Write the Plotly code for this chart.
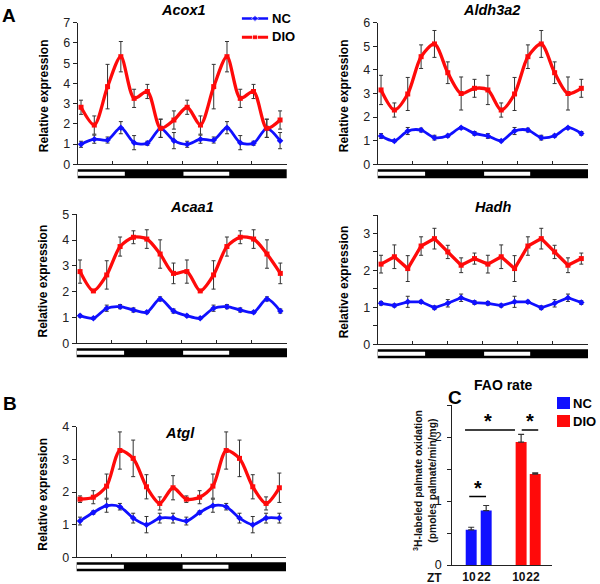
import plotly.graph_objects as go

# ---------------- DATA ----------------
TIMEPOINTS = list(range(1, 17))  # double-plotted time points

ACOX1_NC = [0.99, 1.24, 1.20, 1.81, 1.07, 1.04, 1.78, 1.17, 0.99, 1.24, 1.20, 1.81, 1.07, 1.04, 1.78, 1.17]
ACOX1_NC_ERR = [0.15, 0.2, 0.15, 0.3, 0.35, 0.1, 0.45, 0.4, 0.15, 0.2, 0.15, 0.3, 0.35, 0.1, 0.45, 0.4]
ACOX1_DIO = [2.82, 1.94, 3.84, 5.32, 3.26, 3.60, 1.78, 2.19, 2.82, 1.94, 3.84, 5.32, 3.26, 3.60, 1.78, 2.19]
ACOX1_DIO_ERR = [0.35, 0.45, 1.1, 0.75, 0.45, 0.35, 0.45, 0.45, 0.35, 0.45, 1.1, 0.75, 0.45, 0.35, 0.45, 0.45]

ALDH3A2_NC = [1.20, 0.99, 1.41, 1.45, 1.13, 1.21, 1.55, 1.31, 1.20, 0.99, 1.41, 1.45, 1.13, 1.21, 1.55, 1.31]
ALDH3A2_NC_ERR = [0.1, 0.04, 0.15, 0.08, 0.1, 0.06, 0.05, 0.08, 0.1, 0.04, 0.15, 0.08, 0.1, 0.06, 0.05, 0.08]
ALDH3A2_DIO = [3.15, 2.30, 2.98, 4.56, 5.10, 3.88, 3.00, 3.22, 3.15, 2.30, 2.98, 4.56, 5.10, 3.88, 3.00, 3.22]
ALDH3A2_DIO_ERR = [0.62, 0.3, 0.7, 0.5, 0.57, 0.46, 0.7, 0.38, 0.62, 0.3, 0.7, 0.5, 0.57, 0.46, 0.7, 0.38]

ACAA1_NC = [1.07, 0.97, 1.36, 1.42, 1.29, 1.20, 1.72, 1.25, 1.07, 0.97, 1.36, 1.42, 1.29, 1.20, 1.72, 1.25]
ACAA1_NC_ERR = [0.05, 0.04, 0.12, 0.08, 0.08, 0.05, 0.08, 0.08, 0.05, 0.04, 0.12, 0.08, 0.08, 0.05, 0.08, 0.08]
ACAA1_DIO = [2.78, 2.03, 2.65, 3.75, 4.11, 4.04, 3.46, 2.71, 2.78, 2.03, 2.65, 3.75, 4.11, 4.04, 3.46, 2.71]
ACAA1_DIO_ERR = [0.45, 0.05, 0.55, 0.37, 0.25, 0.36, 0.55, 0.4, 0.45, 0.05, 0.55, 0.37, 0.25, 0.36, 0.55, 0.4]

HADH_NC = [1.11, 1.05, 1.15, 1.15, 0.99, 1.11, 1.26, 1.13, 1.11, 1.05, 1.15, 1.15, 0.99, 1.11, 1.26, 1.13]
HADH_NC_ERR = [0.05, 0.04, 0.15, 0.04, 0.05, 0.1, 0.1, 0.05, 0.05, 0.04, 0.15, 0.04, 0.05, 0.1, 0.1, 0.05]
HADH_DIO = [2.17, 2.37, 2.05, 2.66, 2.86, 2.50, 2.14, 2.32, 2.17, 2.37, 2.05, 2.66, 2.86, 2.50, 2.14, 2.32]
HADH_DIO_ERR = [0.24, 0.32, 0.35, 0.25, 0.28, 0.18, 0.2, 0.15, 0.24, 0.32, 0.35, 0.25, 0.28, 0.18, 0.2, 0.15]

ATGL_NC = [1.11, 1.37, 1.58, 1.55, 1.20, 1.00, 1.20, 1.20, 1.11, 1.37, 1.58, 1.55, 1.20, 1.00, 1.20, 1.20]
ATGL_NC_ERR = [0.12, 0.05, 0.2, 0.1, 0.15, 0.25, 0.15, 0.15, 0.12, 0.05, 0.2, 0.1, 0.15, 0.25, 0.15, 0.15]
ATGL_DIO = [1.78, 1.84, 2.18, 3.27, 3.03, 2.16, 1.65, 2.13, 1.78, 1.84, 2.18, 3.27, 3.03, 2.16, 1.65, 2.13]
ATGL_DIO_ERR = [0.1, 0.2, 0.37, 0.57, 0.56, 0.37, 0.2, 0.37, 0.1, 0.2, 0.37, 0.57, 0.56, 0.37, 0.2, 0.45]

FAO_ZT = ["10", "22"]
FAO_NC = [0.55, 0.85]
FAO_NC_ERR = [0.04, 0.08]
FAO_DIO = [1.92, 1.42]
FAO_DIO_ERR = [0.12, 0.02]

# ---------------- LAYOUT HELPERS ----------------
W, H = 600, 584
BLUE = "#1010ff"
RED = "#ff0a0a"
FONT = "Liberation Sans, Arial, sans-serif"


def px(x):
    return x / W


def py(y):
    return 1 - y / H


fig = go.Figure()
layout = dict(
    width=W, height=H, margin=dict(l=0, r=0, t=0, b=0, autoexpand=False),
    plot_bgcolor="white", paper_bgcolor="white", showlegend=False,
    font=dict(family=FONT, size=12, color="black"),
)
shapes = []
annotations = []

XR = [0.75, 16.5]

panels = [
    ("Acox1", ACOX1_NC, ACOX1_NC_ERR, ACOX1_DIO, ACOX1_DIO_ERR, 77.7, 286.7, 22.7, 164.3, 7, (183, 10)),
    ("Aldh3a2", ALDH3A2_NC, ALDH3A2_NC_ERR, ALDH3A2_DIO, ALDH3A2_DIO_ERR, 377.7, 588, 22.7, 164.3, 6, (492, 10)),
    ("Acaa1", ACAA1_NC, ACAA1_NC_ERR, ACAA1_DIO, ACAA1_DIO_ERR, 76.7, 287, 214.3, 343.3, 5, (192, 207)),
    ("Hadh", HADH_NC, HADH_NC_ERR, HADH_DIO, HADH_DIO_ERR, 377.7, 588, 215, 344.3, 3.5, (493, 207)),
    ("Atgl", ATGL_NC, ATGL_NC_ERR, ATGL_DIO, ATGL_DIO_ERR, 76.7, 286, 426.7, 557.3, 4, (180, 433)),
]

for i, (name, nc, nce, dio, dioe, x0, x1, ytop, ybot, ymax, tpos) in enumerate(panels, start=1):
    xa = "x" if i == 1 else f"x{i}"
    ya = "y" if i == 1 else f"y{i}"
    shape_mode = "linear" if name == "Hadh" else "spline"
    for vals, errs, color, sym, lw in ((nc, nce, BLUE, "diamond", 2.8), (dio, dioe, RED, "square", 3.3)):
        fig.add_trace(go.Scatter(
            x=TIMEPOINTS, y=vals, xaxis=xa, yaxis=ya, mode="lines+markers",
            line=dict(color=color, width=lw, shape=shape_mode, smoothing=0.8),
            marker=dict(symbol=sym, size=5, color=color),
            error_y=dict(type="data", array=errs, visible=True, color="#333333", thickness=1, width=2),
            cliponaxis=False,
        ))
    if name == "Hadh":
        tv = [k * 0.5 for k in range(8)]
        tt = [str(int(v)) if v == int(v) else "" for v in tv]
    else:
        tv = list(range(int(ymax) + 1))
        tt = [str(v) for v in tv]
    key_x = "xaxis" if i == 1 else f"xaxis{i}"
    key_y = "yaxis" if i == 1 else f"yaxis{i}"
    step = (XR[1] - XR[0]) / 6
    layout[key_x] = dict(
        domain=[px(x0), px(x1)], range=XR, anchor=ya, automargin=False,
        showgrid=False, zeroline=False, showline=True, linecolor="#222", linewidth=1,
        tickvals=[XR[0] + k * step for k in range(7)], ticktext=[""] * 7,
        ticks="inside", ticklen=3, tickcolor="#222", fixedrange=True,
    )
    layout[key_y] = dict(
        domain=[py(ybot), py(ytop)], range=[0, ymax], anchor=xa, automargin=False,
        showgrid=False, zeroline=False, showline=True, linecolor="#222", linewidth=1,
        tickvals=tv, ticktext=tt, ticks="outside", ticklen=4, tickcolor="#222",
        tickfont=dict(size=12.5, color="#222"), fixedrange=True,
    )
    # light/dark bar
    shapes.append(dict(type="rect", xref=xa, yref="paper", x0=0.6, x1=16.58,
                       y0=py(ybot + 14), y1=py(ybot + 5), fillcolor="black", line=dict(width=0)))
    for a, b in ((0.77, 4.3), (8.72, 12.17)):
        shapes.append(dict(type="rect", xref=xa, yref="paper", x0=a, x1=b,
                           y0=py(ybot + 11.5), y1=py(ybot + 7.5), fillcolor="white", line=dict(width=0)))
    annotations.append(dict(text=f"<b><i>{name}</i></b>", x=px(tpos[0]), y=py(tpos[1]), xref="paper", yref="paper",
                            showarrow=False, font=dict(size=14.5, color="black"), xanchor="center", yanchor="middle"))
    annotations.append(dict(text="<b>Relative expression</b>", x=px(x0 - 34), y=py((ytop + ybot) / 2 + 2),
                            xref="paper", yref="paper", showarrow=False, textangle=-90,
                            font=dict(size=12, color="black"), xanchor="center", yanchor="middle"))

# ---------------- legend for A (small helper axis) ----------------
fig.add_trace(go.Scatter(x=[0, 1, 2], y=[1, 1, 1], xaxis="x7", yaxis="y7", mode="lines+markers",
                         line=dict(color=BLUE, width=2.5), marker=dict(symbol="diamond", size=[0, 5, 0], color=BLUE)))
fig.add_trace(go.Scatter(x=[0, 1, 2], y=[0, 0, 0], xaxis="x7", yaxis="y7", mode="lines+markers",
                         line=dict(color=RED, width=3), marker=dict(symbol="square", size=[0, 5, 0], color=RED)))
layout["xaxis7"] = dict(domain=[px(241.7), px(268.3)], range=[0, 2], visible=False, anchor="y7", fixedrange=True)
layout["yaxis7"] = dict(domain=[py(46.7), py(9)], range=[-0.5, 1.5], visible=False, anchor="x7", fixedrange=True)
annotations.append(dict(text="<b>NC</b>", x=px(270), y=py(19), xref="paper", yref="paper", showarrow=False,
                        xanchor="left", yanchor="middle", font=dict(size=13)))
annotations.append(dict(text="<b>DIO</b>", x=px(270), y=py(37), xref="paper", yref="paper", showarrow=False,
                        xanchor="left", yanchor="middle", font=dict(size=13)))

# ---------------- panel C: FAO rate ----------------
FAO_X_NC = [1.26, 2.26]
FAO_X_DIO = [4.59, 5.53]
fig.add_trace(go.Bar(x=FAO_X_NC, y=FAO_NC, xaxis="x6", yaxis="y6", width=0.73, marker=dict(color=BLUE, line=dict(width=0)),
                     error_y=dict(type="data", array=FAO_NC_ERR, symmetric=False, arrayminus=[0, 0],
                                  color="#333", thickness=1.2, width=3)))
fig.add_trace(go.Bar(x=FAO_X_DIO, y=FAO_DIO, xaxis="x6", yaxis="y6", width=0.73, marker=dict(color=RED, line=dict(width=0)),
                     error_y=dict(type="data", array=FAO_DIO_ERR, symmetric=False, arrayminus=[0, 0],
                                  color="#333", thickness=1.2, width=3)))
layout["barmode"] = "overlay"
layout["xaxis6"] = dict(domain=[px(452.3), px(551.7)], range=[0, 6.63], anchor="y6", automargin=False,
                        showgrid=False, zeroline=False, showline=True, linecolor="#222", linewidth=1,
                        tickvals=[x - 0.15 for x in FAO_X_NC + FAO_X_DIO],
                        ticktext=[f"<b>{t}</b>" for t in FAO_ZT + FAO_ZT],
                        ticks="", tickangle=0, tickfont=dict(size=12, color="#111"),
                        ticklabelstandoff=1, fixedrange=True)
layout["yaxis6"] = dict(domain=[py(565), py(405)], range=[0, 2.5], anchor="x6", automargin=False,
                        showgrid=False, zeroline=False, showline=True, linecolor="#222", linewidth=1,
                        tickvals=[0, 0.5, 1, 1.5, 2, 2.5], ticktext=["0", "", "1", "", "2", ""],
                        ticks="outside", ticklen=4, tickcolor="#222", tickfont=dict(size=12.5, color="#111"),
                        showticklabels=True, ticklabelstandoff=3, fixedrange=True)
annotations.append(dict(text="<b>ZT</b>", x=px(434), y=py(577.5), xref="paper", yref="paper", showarrow=False,
                        xanchor="center", yanchor="middle", font=dict(size=12, color="#111")))
annotations.append(dict(text="<b>FAO rate</b>", x=px(503), y=py(385), xref="paper", yref="paper", showarrow=False,
                        xanchor="center", yanchor="middle", font=dict(size=14)))
annotations.append(dict(text="<b><sup>3</sup>H-labeled palmate oxidation<br>(pmoles palmate/min/mg)</b>",
                        x=px(424), y=py(481), xref="paper", yref="paper", showarrow=False, textangle=-90,
                        xanchor="center", yanchor="middle", font=dict(size=10.3, color="#111")))
for xa0, xa1, yv in ((0.85, 4.18, 2.11), (4.63, 5.73, 2.11), (1.13, 2.25, 1.07)):
    shapes.append(dict(type="line", xref="x6", yref="y6", x0=xa0, x1=xa1, y0=yv, y1=yv,
                       line=dict(color="black", width=1.5)))
for xs, ys in ((2.38, 2.11), (5.18, 2.11), (1.71, 1.07)):
    annotations.append(dict(text="<b>*</b>", x=xs, y=ys, xref="x6", yref="y6", showarrow=False,
                            xanchor="center", yanchor="bottom", yshift=-4, font=dict(size=20)))
for (lbl, col, yt) in (("NC", BLUE, 397), ("DIO", RED, 415)):
    shapes.append(dict(type="rect", xref="paper", yref="paper", x0=px(557), x1=px(570), y0=py(yt + 12), y1=py(yt),
                       fillcolor=col, line=dict(width=0)))
    annotations.append(dict(text=f"<b>{lbl}</b>", x=px(570.5), y=py(yt + 6), xref="paper", yref="paper",
                            showarrow=False, xanchor="left", yanchor="middle", font=dict(size=13)))

for lbl, lx, ly in (("A", 9, 15), ("B", 10, 403), ("C", 455, 398)):
    annotations.append(dict(text=f"<b>{lbl}</b>", x=px(lx), y=py(ly), xref="paper", yref="paper", showarrow=False,
                            xanchor="center", yanchor="middle", font=dict(size=19)))

layout["shapes"] = shapes
layout["annotations"] = annotations
fig.update_layout(**layout)
fig.write_html("out.html", config={"displayModeBar": False},
               post_script="document.body.style.margin='0';document.body.style.overflow='hidden';")
